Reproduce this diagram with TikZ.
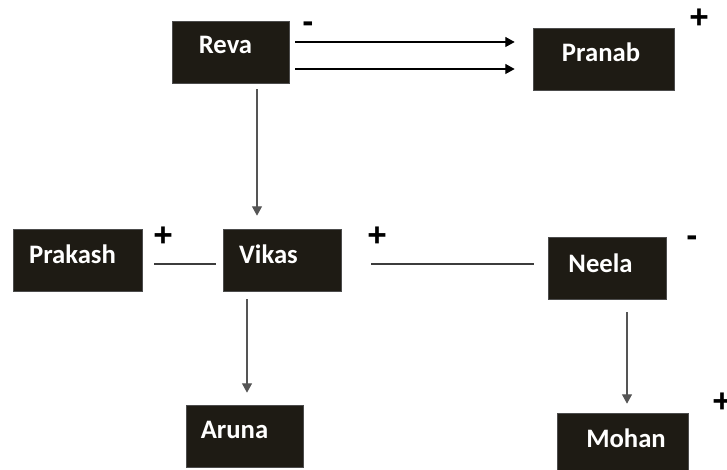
\documentclass[tikz,border=0pt]{standalone}
\usepackage{fontspec}
\setmainfont{Carlito}
\newfontfamily\signfont{Liberation Sans}
\usetikzlibrary{arrows.meta,calc}
\definecolor{boxfill}{RGB}{30,27,20}
\definecolor{vline}{RGB}{85,85,85}
\definecolor{hline}{RGB}{60,60,60}
\begin{document}
\begin{tikzpicture}[x=0.75pt,y=-0.75pt,
  box/.style 2 args={draw=black!70, line width=0.5pt, fill=boxfill, inner sep=0pt,
    minimum width={#1*0.75pt}, minimum height={#2*0.75pt}},
  lbl/.style={text=white, font=\bfseries\fontsize{20}{24}\selectfont, inner sep=0pt, anchor=base},
  sgn/.style={font=\signfont\bfseries\fontsize{25}{30}\selectfont, inner sep=0pt, anchor=center},
  arr/.style={-{Triangle[length=7pt,width=7.5pt]}, line width=0.8pt},
  ln/.style={line width=0.8pt}]
\useasboundingbox (0,0) rectangle (727,470);
\clip (0,0) rectangle (727,470);

% boxes
\node[box={117}{62}] (reva) at (230.5,52) {};
\node[lbl] (revat) at (225.5,54) {Reva};
\node[box={141}{62}] (pranab) at (603.5,59) {};
\node[lbl] (pranabt) at (601,62) {Pranab};
\node[box={129}{62}] (prakash) at (77.5,260) {};
\node[lbl] (prakasht) at (72.5,263) {Prakash};
\node[box={118}{62}] (vikas) at (282,260) {};
\node[lbl] (vikast) at (268.5,263) {Vikas};
\node[box={118}{62}] (neela) at (607,268) {};
\node[lbl] (neelat) at (600.5,272) {Neela};
\node[box={117}{62}] (aruna) at (244.5,436) {};
\node[lbl] (arunat) at (234.5,438) {Aruna};
\node[box={131}{62}] (mohan) at (622.5,444) {};
\node[lbl] (mohant) at (626,447) {Mohan};

% signs
\node[sgn] (s1) at (308,27) {-};
\node[sgn] (s2) at (699,19) {+};
\node[sgn] (s3) at (163,237) {+};
\node[sgn] (s4) at (377,237) {+};
\node[sgn] (s5) at (692,241) {-};
\node[sgn] (s6) at (722,403) {+};

% connectors
\draw[arr, black, shorten <=4.5pt, shorten >=13.5pt] (reva.east |- 0,42) -- (pranab.west |- 0,42);
\draw[arr, black, shorten <=4.5pt, shorten >=13.5pt] (reva.east |- 0,69) -- (pranab.west |- 0,69);
\draw[arr, vline, shorten <=4.5pt, shorten >=9.75pt] (reva.south -| 257,0) -- (vikas.north -| 257,0);
\draw[ln, hline, shorten <=9pt, shorten >=5.25pt] (prakash.east |- 0,264) -- (vikas.west |- 0,264);
\draw[ln, hline, shorten <=22.5pt, shorten >=10.5pt] (vikas.east |- 0,264) -- (neela.west |- 0,264);
\draw[arr, vline, shorten <=6pt, shorten >=9pt] (vikas.south -| 247,0) -- (aruna.north -| 247,0);
\draw[arr, vline, shorten <=9.75pt, shorten >=6.75pt] (neela.south -| 627,0) -- (mohan.north -| 627,0);
\end{tikzpicture}
\end{document}
